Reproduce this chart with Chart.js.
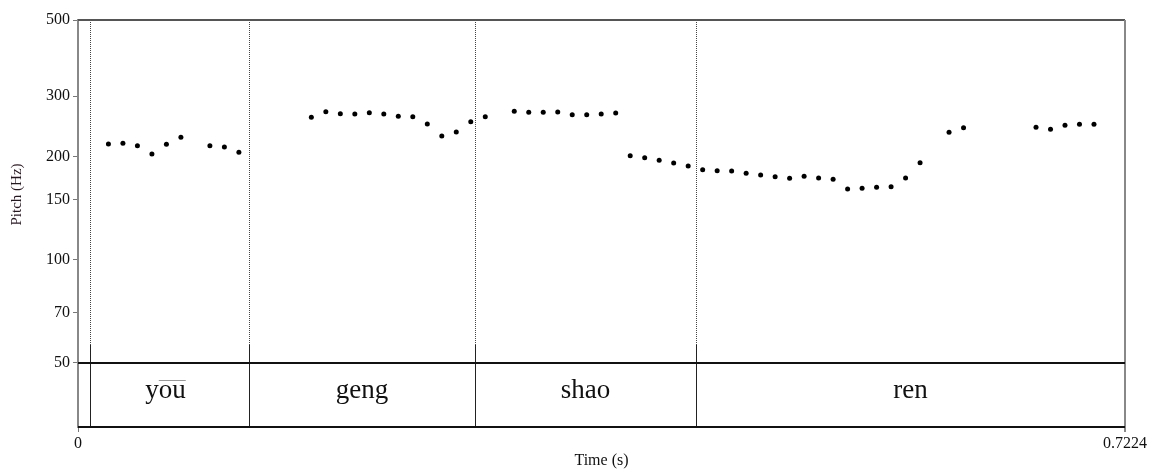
<!DOCTYPE html>
<html>
<head>
<meta charset="utf-8">
<script src="https://cdn.jsdelivr.net/npm/chart.js@4.4.0/dist/chart.umd.min.js"></script>
<style>
  html, body { margin: 0; padding: 0; background: #fff; }
  #wrap { width: 1150px; height: 469px; }
</style>
</head>
<body>
<div id="wrap"><canvas id="pitchChart" width="1150" height="469"></canvas></div>
<script>
// pitch samples (s, Hz)
const times = [
  0.021, 0.031, 0.041, 0.051, 0.061, 0.071, 0.091, 0.101, 0.111,
  0.161, 0.171, 0.181, 0.191, 0.201, 0.211, 0.221, 0.231, 0.241, 0.251, 0.261, 0.271, 0.281,
  0.301, 0.311, 0.321, 0.331, 0.341, 0.351, 0.361, 0.371,
  0.381, 0.391, 0.401, 0.411, 0.421, 0.431, 0.441, 0.451, 0.461, 0.471, 0.481, 0.491,
  0.501, 0.511, 0.521, 0.531, 0.541, 0.551, 0.561, 0.571, 0.581,
  0.601, 0.611,
  0.661, 0.671, 0.681, 0.691, 0.701
];
const pitch = [
  217.6, 218.5, 215.0, 203.4, 217.1, 227.5, 215.0, 213.1, 205.8,
  260.2, 270.1, 266.5, 266.1, 268.4, 266.1, 261.9, 261.2, 248.8, 229.5, 235.7, 252.6, 261.2,
  271.0, 269.1, 269.1, 269.7, 264.8, 264.8, 266.1, 267.8,
  201.1, 198.4, 195.0, 191.5, 187.6, 183.0, 181.8, 181.5, 178.7, 176.7, 174.7, 172.8,
  175.1, 173.2, 171.6, 160.8, 161.7, 162.7, 163.3, 173.2, 191.9,
  235.2, 242.6,
  243.3, 240.0, 246.5, 248.3, 248.3
];

// text tier
const tierBounds = [0.0083, 0.118, 0.2739, 0.4264];
const tierStarts = [0.0083, 0.118, 0.2739, 0.4264];
const tierEnds = [0.118, 0.2739, 0.4264, 0.7224];
const tierLabels = ['you', 'geng', 'shao', 'ren'];
const tierOverline = ['ou', '', '', '']; // tone mark drawn as overline

// axes
const yTicks = [50, 70, 100, 150, 200, 300, 500];
const xTicks = [0, 0.7224];
const xTickLabels = ['0', '0.7224'];

const SERIF = "'Liberation Serif', 'Times New Roman', serif";
Chart.defaults.font.family = SERIF;
Chart.defaults.color = '#111';

const tierPlugin = {
  id: 'tier',
  beforeDatasetsDraw(chart) {
    const ctx = chart.ctx;
    const xs = chart.scales.x, ys = chart.scales.y;
    const top = chart.chartArea.top, bottom = chart.chartArea.bottom;
    const y50 = ys.getPixelForValue(50);
    const solidTop = y50 - 18;
    ctx.save();
    // boundaries: dotted across pitch area, solid in tier
    tierBounds.forEach(t => {
      const x = Math.round(xs.getPixelForValue(t)) + 0.5;
      ctx.strokeStyle = '#444';
      ctx.lineWidth = 1;
      ctx.setLineDash([1, 1]);
      ctx.beginPath(); ctx.moveTo(x, top); ctx.lineTo(x, solidTop); ctx.stroke();
      ctx.setLineDash([]);
      ctx.strokeStyle = '#222';
      ctx.beginPath(); ctx.moveTo(x, solidTop); ctx.lineTo(x, bottom); ctx.stroke();
    });
    // tier labels
    ctx.font = '27px ' + SERIF;
    ctx.fillStyle = '#111';
    ctx.textBaseline = 'alphabetic';
    tierLabels.forEach((lab, i) => {
      const cx = (xs.getPixelForValue(tierStarts[i]) + xs.getPixelForValue(tierEnds[i])) / 2;
      const w = ctx.measureText(lab).width;
      const x0 = cx - w / 2 - (tierOverline[i] ? 4 : 0);
      ctx.textAlign = 'left';
      ctx.fillText(lab, x0, 398);
      if (tierOverline[i]) {
        const pre = lab.slice(0, lab.indexOf(tierOverline[i]));
        const ox = x0 + ctx.measureText(pre).width;
        const ow = ctx.measureText(tierOverline[i]).width;
        ctx.strokeStyle = '#999';
        ctx.lineWidth = 1;
        ctx.beginPath(); ctx.moveTo(ox, 380.5); ctx.lineTo(ox + ow, 380.5); ctx.stroke();
      }
    });
    ctx.restore();
  },
  afterDraw(chart) {
    const ctx = chart.ctx;
    const a = chart.chartArea;
    const ys = chart.scales.y;
    const y50 = Math.round(ys.getPixelForValue(50));
    ctx.save();
    // box top / right
    ctx.strokeStyle = '#555';
    ctx.lineWidth = 2;
    ctx.beginPath(); ctx.moveTo(a.left, a.top); ctx.lineTo(a.right, a.top); ctx.stroke();
    ctx.strokeStyle = '#888';
    ctx.beginPath(); ctx.moveTo(a.right, a.top); ctx.lineTo(a.right, a.bottom + 5); ctx.stroke();
    // tier top line at 50 Hz
    ctx.strokeStyle = '#111';
    ctx.beginPath(); ctx.moveTo(a.left, y50); ctx.lineTo(a.right, y50); ctx.stroke();
    ctx.beginPath(); ctx.moveTo(a.left, a.bottom); ctx.lineTo(a.right, a.bottom); ctx.stroke();
    // y title centred on pitch range
    const mid = (ys.getPixelForValue(500) + ys.getPixelForValue(50)) / 2 + 3;
    ctx.translate(17, mid);
    ctx.rotate(-Math.PI / 2);
    ctx.font = '15px ' + SERIF;
    ctx.fillStyle = '#2a1420';
    ctx.textAlign = 'center';
    ctx.textBaseline = 'middle';
    ctx.fillText('Pitch (Hz)', 0, 0);
    ctx.restore();
  }
};

new Chart(document.getElementById('pitchChart'), {
  type: 'scatter',
  data: {
    datasets: [{
      label: 'Pitch',
      data: times.map((t, i) => ({ x: t, y: pitch[i] })),
      backgroundColor: '#000',
      borderWidth: 0,
      pointRadius: 2.5,
      pointHoverRadius: 2.5
    }]
  },
  options: {
    responsive: false,
    animation: false,
    events: [],
    layout: { padding: { top: 20, right: 25, left: 0, bottom: 0 } },
    plugins: { legend: { display: false }, tooltip: { enabled: false } },
    scales: {
      x: {
        type: 'linear',
        min: 0,
        max: 0.7224,
        afterBuildTicks: s => { s.ticks = xTicks.map(v => ({ value: v })); },
        afterFit: s => { s.height = 42; },
        ticks: {
          autoSkip: false,
          maxRotation: 0,
          padding: 2,
          font: { size: 16 },
          color: '#111',
          callback: (v, i) => xTickLabels[i]
        },
        grid: { drawOnChartArea: false, drawTicks: true, tickLength: 5, tickColor: '#777' },
        border: { display: true, color: '#111', width: 2 },
        title: { display: true, text: 'Time (s)', font: { size: 16, lineHeight: 1 }, padding: { top: 0, bottom: 0 }, color: '#111' }
      },
      y: {
        type: 'logarithmic',
        min: 32.53,
        max: 500,
        afterBuildTicks: s => { s.ticks = yTicks.map(v => ({ value: v })); },
        afterFit: s => { s.width = 78; },
        ticks: {
          autoSkip: false,
          padding: 3,
          font: { size: 16 },
          color: '#111',
          callback: v => String(v)
        },
        grid: { drawOnChartArea: false, drawTicks: true, tickLength: 5, tickColor: '#777' },
        border: { display: true, color: '#888', width: 2 }
      }
    }
  },
  plugins: [tierPlugin]
});
</script>
</body>
</html>
